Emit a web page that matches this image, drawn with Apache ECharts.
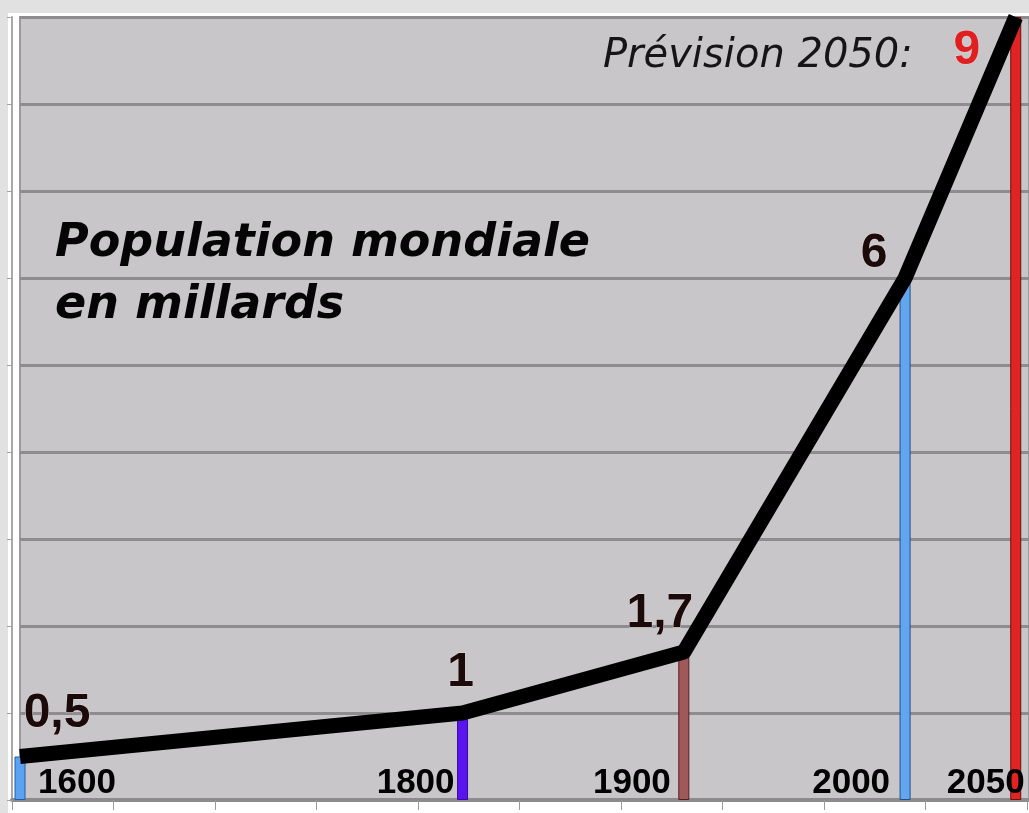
<!DOCTYPE html>
<html>
<head>
<meta charset="utf-8">
<script src="https://cdn.jsdelivr.net/npm/echarts@6/dist/echarts.min.js"></script>
<style>html,body{margin:0;padding:0;background:#fff}#c{width:1029px;height:813px}</style>
</head>
<body>
<div id="c"></div>
<script>
// ---- data ----
const years = [1600, 1800, 1900, 2000, 2050];
const population = [0.5, 1, 1.7, 6, 9];
const valueLabels = ['0,5', '1', '1,7', '6', '9'];
const yearLabels = ['1600', '1800', '1900', '2000', '2050'];
const titleText = 'Population mondiale\nen millards';
const forecastText = 'Prévision 2050:';

// ---- styles / layout ----
const barFill = ['#5aa2f2', '#5a14f0', '#a05858', '#62a6f0', '#e02424'];
const barEdge = ['#2a5aa0', '#3a0aa0', '#502020', '#24508a', '#6a1010'];
const valueLabelColor = ['#1c0a0a', '#1c0a0a', '#1c0a0a', '#1c0a0a', '#e02020'];
const valueLabelOffset = [[37, -43], [-2, -40], [-24, -38], [-31, -24], [-49, 34]];
const yearLabelAlign = ['left', 'right', 'right', 'right', 'right'];
const yearLabelOffset = [[18, -17], [-8, -17], [-13, -17], [-15, -17], [9, -17]];

const chart = echarts.init(document.getElementById('c'));
const labelFont = { fontFamily: '"Liberation Sans", Arial, sans-serif', fontWeight: 'bold' };

const option = {
  backgroundColor: '#ffffff',
  animation: false,
  graphic: [
    { type: 'rect', z: -10, shape: { x: 0, y: 0, width: 1029, height: 13 }, style: { fill: '#e1e1e1' } },
    { type: 'rect', z: -10, shape: { x: 0, y: 0, width: 8, height: 813 }, style: { fill: '#e1e1e1' } },
    { type: 'text', z: 50, left: 55, top: 213, style: { text: titleText, font: 'italic bold 46px "DejaVu Sans"', lineHeight: 62, fill: '#050505' } },
    { type: 'text', z: 50, x: 603, y: 57, style: { text: forecastText, font: 'italic 40px "DejaVu Sans"', verticalAlign: 'middle', fill: '#151515' } }
  ],
  grid: [
    { left: 20, right: -2, top: 17, bottom: 13, show: true, backgroundColor: '#c8c6c8', borderColor: '#9c9a9c', borderWidth: 2 },
    { left: 12, right: 2, top: 17, bottom: 13 }
  ],
  xAxis: [
    { gridIndex: 0, type: 'value', min: 1600, max: 2056, axisLine: { show: false }, axisTick: { show: false }, axisLabel: { show: false }, splitLine: { show: false } },
    { gridIndex: 1, type: 'value', min: 0, max: 10, interval: 1, axisLine: { show: true, lineStyle: { color: '#8c8a8c', width: 4 } }, axisTick: { show: true, length: 10, lineStyle: { color: '#9a9a9a', width: 1 } }, axisLabel: { show: false }, splitLine: { show: false } }
  ],
  yAxis: [
    { gridIndex: 0, type: 'value', min: 0, max: 9, interval: 1, axisLine: { show: false }, axisTick: { show: false }, axisLabel: { show: false }, splitLine: { show: true, lineStyle: { color: '#8e8c8e', width: 3 } } },
    { gridIndex: 1, type: 'value', min: 0, max: 9, interval: 1, axisLine: { show: true, lineStyle: { color: '#a8a8a8', width: 2 } }, axisTick: { show: true, length: 5, lineStyle: { color: '#a0a0a0' } }, axisLabel: { show: false }, splitLine: { show: false } }
  ],
  series: [
    {
      type: 'bar', xAxisIndex: 0, yAxisIndex: 0, barWidth: 11,
      data: years.map((y, i) => ({ value: [y, population[i]], itemStyle: { color: barFill[i], borderColor: barEdge[i], borderWidth: 1 } }))
    },
    {
      type: 'line', xAxisIndex: 0, yAxisIndex: 0, symbol: 'circle', symbolSize: 0, showSymbol: true,
      lineStyle: { color: '#000', width: 15, join: 'round' },
      data: years.map((y, i) => ({
        value: [y, population[i]],
        label: {
          show: true, position: 'inside', formatter: valueLabels[i], offset: valueLabelOffset[i],
          fontSize: 48, ...labelFont, color: valueLabelColor[i],
          textBorderColor: '#dcdadc', textBorderWidth: 1
        }
      }))
    },
    {
      type: 'scatter', xAxisIndex: 0, yAxisIndex: 0, symbolSize: 0, clip: false, z: 5,
      itemStyle: { opacity: 1 },
      data: years.map((y, i) => ({
        value: [y, 0],
        label: {
          show: true, position: 'inside', formatter: yearLabels[i], align: yearLabelAlign[i], verticalAlign: 'middle',
          offset: yearLabelOffset[i], fontSize: 35, ...labelFont, color: '#000000', opacity: 1
        }
      }))
    }
  ]
};
chart.setOption(option);
</script>
</body>
</html>
